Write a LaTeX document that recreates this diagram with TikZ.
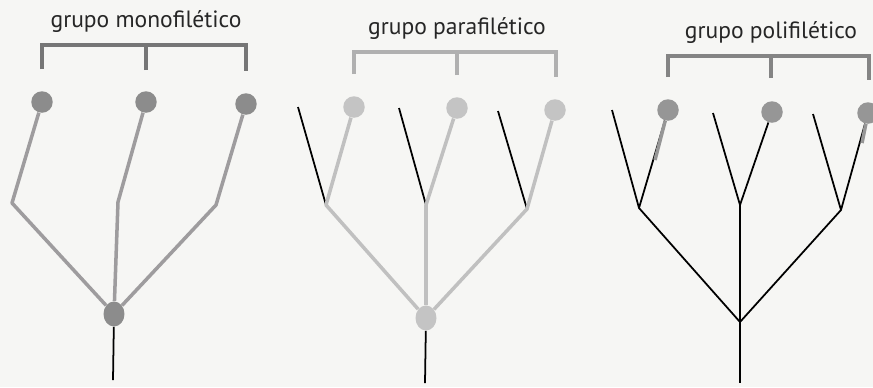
\documentclass[tikz,border=0pt]{standalone}
\usepackage{fontspec}
\setmainfont{PT Sans}
\usepackage{tikz}
\usetikzlibrary{positioning,shapes.geometric}

\definecolor{paper}{RGB}{246,246,244}
\definecolor{monoline}{RGB}{158,156,158}
\definecolor{monodot}{RGB}{140,140,140}
\definecolor{monobrace}{RGB}{118,118,118}
\definecolor{paraline}{RGB}{192,192,192}
\definecolor{paradot}{RGB}{196,196,196}
\definecolor{parabrace}{RGB}{176,176,176}
\definecolor{polydot}{RGB}{150,150,150}
\definecolor{polybrace}{RGB}{132,132,132}

\begin{document}
\begin{tikzpicture}[
  x=0.02cm, y=-0.02cm,
  tipdot/.style={circle, inner sep=0pt, minimum size=0.43cm},
  rootdot/.style={ellipse, inner sep=0pt, minimum width=0.42cm, minimum height=0.5cm},
  branch/.style={line width=2pt, line join=round},
  stem/.style={line width=1pt, black},
  brace/.style={line width=2.2pt},
  title/.style={font=\fontsize{13.4}{15}\selectfont, text=black!85},
]
\useasboundingbox (0,0) rectangle (873,387);
\fill[paper] (0,0) rectangle (873,387);

% grupo monofiletico
\node[tipdot, fill=monodot] (m1) at (42,102) {};
\node[tipdot, fill=monodot] (m2) at (146,102) {};
\node[tipdot, fill=monodot] (m3) at (246,104) {};
\node[rootdot, fill=monodot] (mr) at (114,314) {};
\coordinate (mk1) at (12,203);
\coordinate (mk2) at (118,202);
\coordinate (mk3) at (216,205);
\coordinate (mb) at (113,380);
\draw[branch, monoline] (m1) -- (mk1) -- (mr);
\draw[branch, monoline] (m2) -- (mk2) -- (mr);
\draw[branch, monoline] (m3) -- (mk3) -- (mr);
\draw[stem] (mr) -- (mb);
\coordinate (mbl) at (42,69);
\coordinate (mbm) at (146,70);
\coordinate (mbr) at (246,71);
\coordinate (mtr) at (246,45);
\draw[brace, monobrace] (mbl) |- (mtr) -- (mbr);
\draw[brace, monobrace] (mbm) -- (mbm |- mtr);
\node[title, above=0.12cm of mbm |- mtr] (mlab) {grupo monofilético};

% grupo parafiletico
\node[tipdot, fill=paradot] (p1) at (354,107) {};
\node[tipdot, fill=paradot] (p2) at (457,108) {};
\node[tipdot, fill=paradot] (p3) at (555,110) {};
\node[rootdot, fill=paradot] (pr) at (426,318) {};
\coordinate (pl1) at (298,107);
\coordinate (pl2) at (399,108);
\coordinate (pl3) at (498,111);
\coordinate (pk1) at (326,205);
\coordinate (pk2) at (426,205);
\coordinate (pk3) at (527,209);
\coordinate (pb) at (425,383);
\draw[stem] (pl1) -- (pk1);
\draw[stem] (pl2) -- (pk2);
\draw[stem] (pl3) -- (pk3);
\draw[branch, paraline] (p1) -- (pk1) -- (pr);
\draw[branch, paraline] (p2) -- (pk2) -- (pr);
\draw[branch, paraline] (p3) -- (pk3) -- (pr);
\draw[stem] (pr) -- (pb);
\coordinate (pbl) at (354,74);
\coordinate (pbm) at (457,75);
\coordinate (pbr) at (556,77);
\coordinate (ptr) at (556,52);
\draw[brace, parabrace] (pbl) |- (ptr) -- (pbr);
\draw[brace, parabrace] (pbm) -- (pbm |- ptr);
\node[title, above=0.12cm of pbm |- ptr] (plab) {grupo parafilético};

% grupo polifiletico
\node[tipdot, fill=polydot] (q1) at (668,110) {};
\node[tipdot, fill=polydot] (q2) at (772,112) {};
\node[tipdot, fill=polydot] (q3) at (868,113) {};
\coordinate (ql1) at (612,110);
\coordinate (ql2) at (713,113);
\coordinate (ql3) at (813,114);
\coordinate (qk1) at (639,208);
\coordinate (qk2) at (740,205);
\coordinate (qk3) at (841,210);
\coordinate (qg1) at (655,160);
\coordinate (qg3) at (862,143);
\coordinate (qr) at (740,322);
\coordinate (qb) at (740,383);
\draw[stem] (ql1) -- (qk1) -- (qr);
\draw[stem] (ql2) -- (qk2) -- (qr);
\draw[stem] (ql3) -- (qk3) -- (qr);
\draw[stem] (q1) -- (qk1);
\draw[stem] (q2) -- (qk2);
\draw[stem] (q3) -- (qk3);
\draw[branch, polydot] (q1) -- (qg1);
\draw[branch, polydot] (q3) -- (qg3);
\draw[stem] (qr) -- (qb);
\coordinate (qbl) at (668,77);
\coordinate (qbm) at (771,78);
\coordinate (qbr) at (869,80);
\coordinate (qtr) at (869,56);
\draw[brace, polybrace] (qbl) |- (qtr) -- (qbr);
\draw[brace, polybrace] (qbm) -- (qbm |- qtr);
\node[title, above=0.12cm of qbm |- qtr] (qlab) {grupo polifilético};
\end{tikzpicture}
\end{document}
